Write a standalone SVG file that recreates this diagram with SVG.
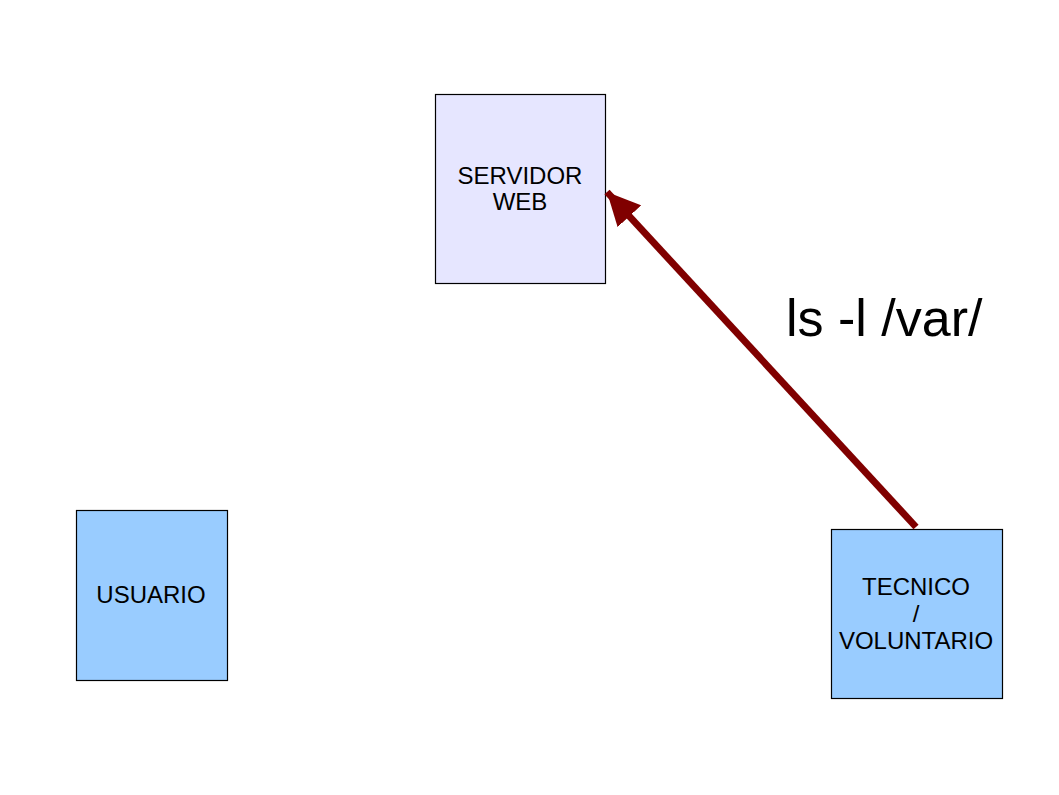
<svg xmlns="http://www.w3.org/2000/svg" width="1059" height="795" viewBox="0 0 1059 795">
<style>
.box{stroke:#000;stroke-width:1.2}
.lbl{font-family:"Liberation Sans",Arial,sans-serif;font-size:24px;fill:#000;text-anchor:middle}
.big{font-family:"Liberation Sans",Arial,sans-serif;font-size:52px;fill:#000}
</style>
<defs>
<marker id="ah" markerUnits="userSpaceOnUse" markerWidth="36" markerHeight="32" refX="33" refY="16" orient="auto">
<path d="M0,0 L33,16 L0,32 Z" fill="#800000"/>
</marker>
</defs>
<rect width="1059" height="795" fill="#fff"/>
<g id="servidor">
<rect class="box" x="435.5" y="94.5" width="170" height="189" fill="#e6e6ff"/>
<text class="lbl" x="520" y="184">SERVIDOR</text>
<text class="lbl" x="520" y="210">WEB</text>
</g>
<g id="usuario">
<rect class="box" x="76.5" y="510.5" width="151" height="170" fill="#99ccff"/>
<text class="lbl" x="151" y="603">USUARIO</text>
</g>
<g id="tecnico">
<rect class="box" x="831.5" y="529.5" width="171" height="169" fill="#99ccff"/>
<text class="lbl" x="916" y="595">TECNICO</text>
<text class="lbl" x="916" y="622">/</text>
<text class="lbl" x="916" y="649">VOLUNTARIO</text>
</g>
<g id="connectors">
<line x1="916" y1="527" x2="607" y2="192" stroke="#800000" stroke-width="7" marker-end="url(#ah)"/>
<text class="big" x="786" y="336">ls -l /var/</text>
</g>
</svg>
